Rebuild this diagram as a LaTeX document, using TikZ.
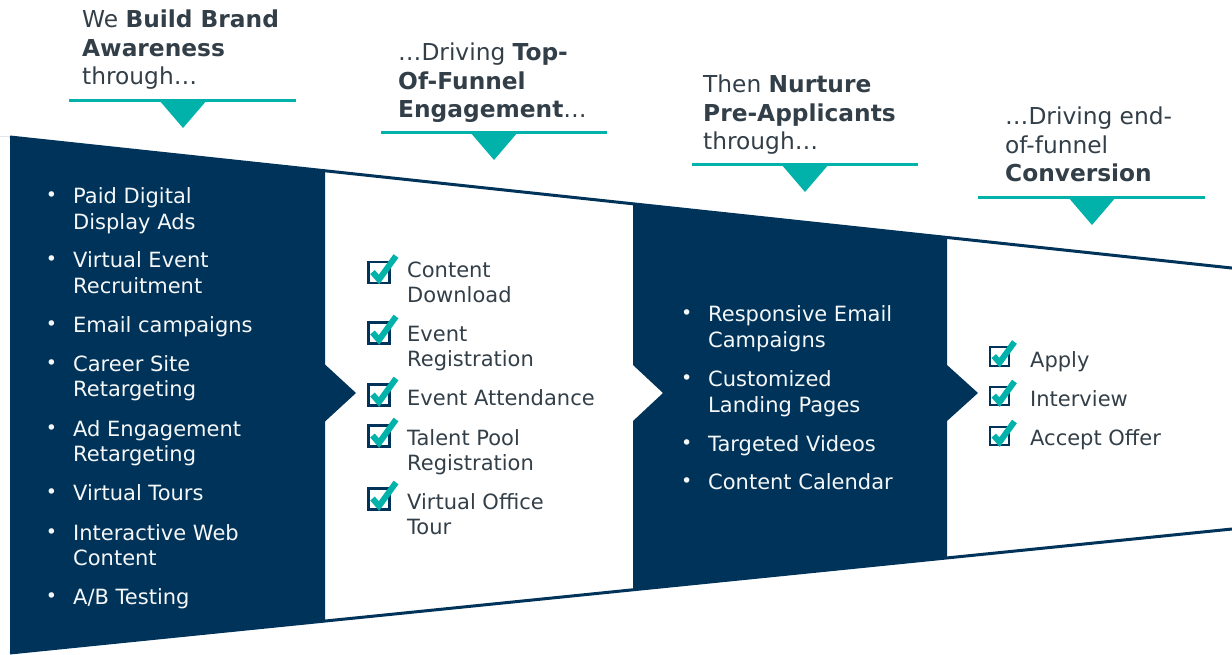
\documentclass[tikz,border=0pt]{standalone}
\usepackage{fontspec}
\setmainfont{DejaVu Sans}
\definecolor{navy}{HTML}{003359}
\definecolor{tealc}{HTML}{00B2A9}
\definecolor{slate}{HTML}{333F48}
% stacked lines; the box baseline is the first line's baseline
\newcommand\mylines[1]{\vtop{\halign{##\hfil\cr#1\crcr}}}
\newcommand\bul{\llap{\raisebox{2pt}{\fontsize{19}{19}\selectfont •}\hspace{16pt}}}
\tikzset{
  hdr/.style={anchor=base west, inner sep=0pt, text=slate, font=\fontsize{23.3}{28.5}\selectfont},
  itm/.style={anchor=base west, inner sep=0pt, font=\fontsize{21}{25.5}\selectfont},
  darkitm/.style={itm, text=white!96!navy},
  lightitm/.style={itm, text=slate},
  rule/.style={draw=tealc, line width=3pt},
  pointer/.style={fill=tealc},
  edge/.style={draw=navy, line width=3pt},
  chk/.pic={
    \draw[navy, line width=2.3pt, fill=white] (-10.5,-10.5) rectangle (10.5,10.5);
    \draw[tealc, line width=6pt] (-6.5,-0.5) -- (0,7) -- (17,-16.5);
  }
}
\begin{document}
\begin{tikzpicture}[x=1pt,y=-1pt]
\useasboundingbox (0,0) rectangle (1232,655);
\clip (0,0) rectangle (1232,655);

% funnel panels
\fill[navy] (10,137) -- (325,170.8) -- (325,364.5) -- (356,393) -- (325,421.5)
  -- (325,621) -- (10,653) -- (10,656) -- (0,656) -- (0,137) -- cycle;
\fill[white] (0,137) rectangle (10,656);
\fill[navy] (633,203.8) -- (947,237.4) -- (947,365) -- (978,393) -- (947,421)
  -- (947,557.9) -- (633,589.8) -- (633,421) -- (663,393) -- (633,365) -- cycle;

% funnel outline
\draw[edge] (10,137) -- (1240,268.9);
\draw[edge] (10,653) -- (1240,528.2);

% headers
\node[hdr] (h1) at (82,28) {\mylines{We \textbf{Build Brand}\cr\textbf{Awareness}\cr through…}};
\node[hdr] (h2) at (398,61) {\mylines{…Driving \textbf{Top-}\cr\textbf{Of-Funnel}\cr\textbf{Engagement}…}};
\node[hdr] (h3) at (703,93) {\mylines{Then \textbf{Nurture}\cr\textbf{Pre-Applicants}\cr through…}};
\node[hdr] (h4) at (1005,125) {\mylines{…Driving end-\cr of-funnel\cr\textbf{Conversion}}};

\draw[rule] (69,101) -- (296,101);
\fill[pointer] (159,100) -- (207,100) -- (183,128) -- cycle;
\draw[rule] (381,133) -- (607,133);
\fill[pointer] (470,132) -- (518,132) -- (494,160) -- cycle;
\draw[rule] (692,165) -- (918,165);
\fill[pointer] (781,164) -- (829,164) -- (805,192) -- cycle;
\draw[rule] (978,198) -- (1205,198);
\fill[pointer] (1068,197) -- (1116,197) -- (1092,225) -- cycle;

% stage 1
\node[darkitm] (a1) at (73,204) {\mylines{\bul Paid Digital\cr Display Ads}};
\node[darkitm] (a2) at (73,268) {\mylines{\bul Virtual Event\cr Recruitment}};
\node[darkitm] (a3) at (73,332) {\mylines{\bul Email campaigns}};
\node[darkitm] (a4) at (73,371) {\mylines{\bul Career Site\cr Retargeting}};
\node[darkitm] (a5) at (73,436) {\mylines{\bul Ad Engagement\cr Retargeting}};
\node[darkitm] (a6) at (73,500) {\mylines{\bul Virtual Tours}};
\node[darkitm] (a7) at (73,540) {\mylines{\bul Interactive Web\cr Content}};
\node[darkitm] (a8) at (73,604) {\mylines{\bul A/B Testing}};

% stage 2
\pic at (379,272.5) {chk};
\pic at (379,333) {chk};
\pic at (379,395) {chk};
\pic at (379,436) {chk};
\pic at (379,499) {chk};
\node[lightitm] (b1) at (407,277) {\mylines{Content\cr Download}};
\node[lightitm] (b2) at (407,341) {\mylines{Event\cr Registration}};
\node[lightitm] (b3) at (407,405) {\mylines{Event Attendance}};
\node[lightitm] (b4) at (407,445) {\mylines{Talent Pool\cr Registration}};
\node[lightitm] (b5) at (407,509) {\mylines{Virtual Office\cr Tour}};

% stage 3
\node[darkitm] (c1) at (708,321.5) {\mylines{\bul Responsive Email\cr Campaigns}};
\node[darkitm] (c2) at (708,386.5) {\mylines{\bul Customized\cr Landing Pages}};
\node[darkitm] (c3) at (708,451) {\mylines{\bul Targeted Videos}};
\node[darkitm] (c4) at (708,489.5) {\mylines{\bul Content Calendar}};

% stage 4
\pic[scale=0.88] at (999.5,356.5) {chk};
\pic[scale=0.88] at (999.5,396) {chk};
\pic[scale=0.88] at (999.5,436) {chk};
\node[lightitm] (d1) at (1030,367) {\mylines{Apply}};
\node[lightitm] (d2) at (1030,406) {\mylines{Interview}};
\node[lightitm] (d3) at (1030,445) {\mylines{Accept Offer}};
\end{tikzpicture}
\end{document}
